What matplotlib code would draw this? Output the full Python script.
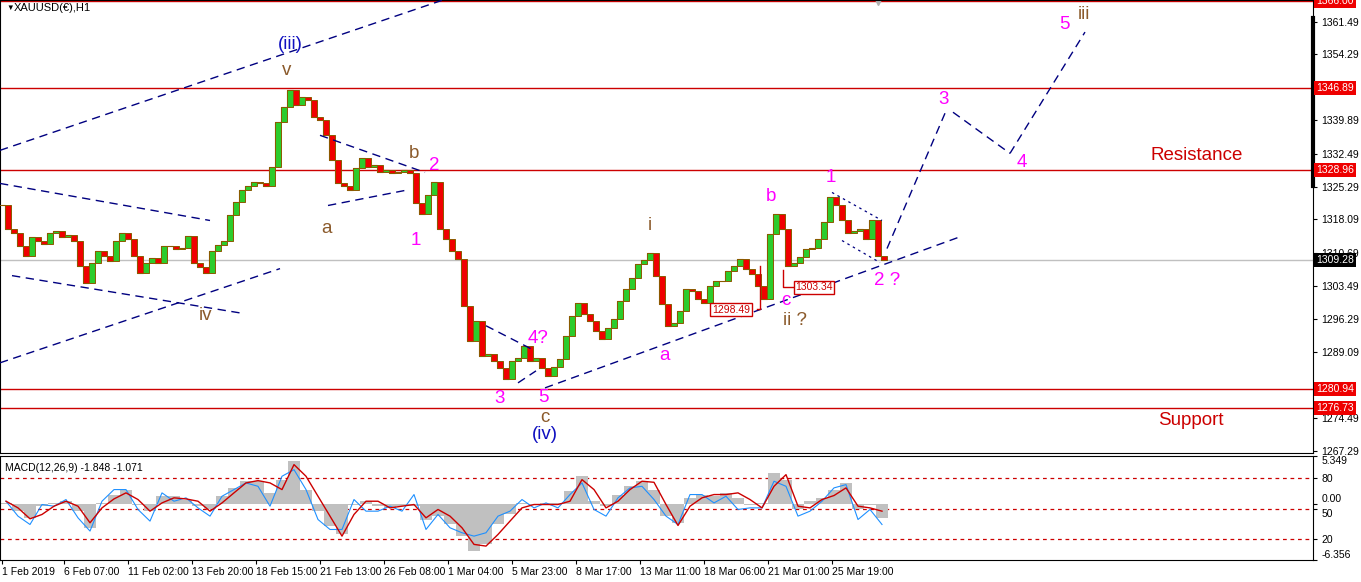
import numpy as np
import matplotlib.pyplot as plt
import matplotlib.transforms as mtransforms

# H1 closes, one every 6 bars
closes = [1321.15, 1316.10, 1315.22, 1312.36, 1310.16, 1314.34, 1313.46, 1312.80, 1315.22, 1315.66,
          1314.34, 1314.78, 1313.46, 1307.96, 1304.22, 1308.62, 1311.26, 1310.16, 1309.06, 1313.46,
          1315.22, 1313.90, 1310.16, 1306.42, 1308.62, 1309.72, 1308.62, 1312.36, 1312.36, 1311.70,
          1311.92, 1314.56, 1308.62, 1307.74, 1306.42, 1311.26, 1312.58, 1313.46, 1318.96, 1321.81,
          1324.45, 1325.33, 1326.21, 1325.99, 1325.33, 1329.51, 1339.41, 1342.71, 1346.45, 1343.15,
          1344.91, 1344.25, 1340.51, 1339.85, 1336.55, 1331.05, 1325.99, 1325.33, 1324.45, 1329.29,
          1331.49, 1329.51, 1329.95, 1328.41, 1328.85, 1328.19, 1328.41, 1328.85, 1328.19, 1321.59,
          1319.39, 1323.35, 1326.21, 1316.10, 1313.90, 1311.26, 1309.50, 1299.16, 1291.46, 1295.86,
          1288.16, 1288.60, 1287.07, 1285.53, 1283.11, 1287.07, 1287.72, 1290.36, 1287.07, 1287.72,
          1285.53, 1283.77, 1285.75, 1287.51, 1292.56, 1296.96, 1299.82, 1297.40, 1295.86, 1293.66,
          1291.90, 1294.32, 1296.30, 1300.26, 1302.90, 1305.32, 1308.40, 1309.28, 1310.82, 1305.76,
          1299.60, 1294.76, 1295.42, 1298.06, 1302.90, 1302.46, 1300.70, 1299.82, 1303.56, 1304.66,
          1304.66, 1306.86, 1307.96, 1309.50, 1307.30, 1306.20, 1303.56, 1300.70, 1315.00, 1319.39,
          1316.10, 1307.96, 1308.62, 1309.94, 1311.70, 1311.92, 1313.90, 1317.42, 1322.91, 1321.15,
          1317.86, 1315.22, 1315.66, 1316.10, 1313.90, 1317.86, 1310.16, 1309.28]

# MACD(12,26,9), one value every 12 bars
macd_hist = [0.07, -0.86, -1.61, -0.30, 0.07, 0.26, -0.86, -2.73, 0.07, 1.01,
             1.57, -0.11, -0.86, 0.82, 0.82, 0.45, -0.30, -0.67, 0.82, 1.76,
             2.51, 2.51, 1.20, 2.69, 4.75, 1.57, -0.86, -2.54, -3.48, -0.11,
             0.26, -0.30, -0.49, -0.30, -0.30, -1.80, -1.42, -2.36, -3.67, -5.35,
             -4.60, -2.36, -1.23, 0.07, -0.11, 0.07, 0.07, 1.38, 3.07, 0.26,
             -0.30, 1.01, 1.94, 2.51, 1.57, -1.42, -2.17, 0.64, 1.01, 0.82,
             1.20, 0.64, -0.11, 0.07, 3.44, 2.69, -0.67, 0.26, 0.64, 1.57,
             2.32, -0.67, -0.11, -1.61]
macd_signal = [0.26, -0.49, -1.72, -1.23, -0.30, 0.26, -0.30, -2.17, -0.49, 0.52,
               1.20, 0.45, -0.86, 0.07, 0.64, 0.52, 0.26, -0.86, 0.07, 1.20,
               2.32, 2.58, 2.32, 1.57, 4.38, 3.07, 0.82, -1.42, -3.67, -1.23,
               0.26, 0.26, -0.49, -0.30, -0.11, -1.61, -0.67, -1.42, -2.73, -4.60,
               -4.79, -3.48, -1.98, -0.49, -0.11, -0.11, -0.11, 0.26, 2.69, 1.57,
               -0.49, 0.26, 1.57, 2.51, 2.39, -0.11, -2.47, -0.30, 0.64, 1.01,
               1.01, 1.20, 0.45, -0.49, 1.94, 3.25, -0.30, -0.49, 0.45, 0.90,
               1.76, -0.30, -0.49, -0.86]
macd_fast = [0.26, -1.42, -2.36, -0.11, -0.30, 0.45, -1.61, -3.10, 0.26, 1.57,
             1.57, -0.67, -1.98, 1.20, 0.26, 0.64, -0.49, -1.42, 0.82, 1.57,
             2.32, 1.94, -0.30, 3.07, 3.81, 1.57, -1.80, -2.92, -2.92, 0.45,
             -0.86, -0.86, -0.30, -0.86, 1.01, -2.92, -1.23, -2.73, -3.29, -3.67,
             -3.29, -1.42, -0.86, 0.45, -0.49, 0.07, -0.49, 1.01, 2.32, -0.67,
             -1.42, 0.64, 1.76, 1.94, 0.45, -1.42, -2.36, 1.01, 1.01, 0.07,
             0.82, -0.67, -0.49, -0.49, 2.51, 1.94, -1.42, -0.86, 0.26, 1.76,
             2.13, -1.80, -0.67, -2.36]

levels = [1366.00, 1346.89, 1328.96, 1280.94, 1276.73]
last_price = 1309.28
price_ticks = [1361.49, 1354.29, 1339.89, 1332.49, 1325.29, 1318.09,
               1310.69, 1303.49, 1296.29, 1289.09, 1274.49, 1267.29]
time_ticks = [2, 64, 128, 192, 256, 320, 384, 448, 512, 576, 640, 704, 768, 832]
time_labels = ['1 Feb 2019', '6 Feb 07:00', '11 Feb 02:00', '13 Feb 20:00', '18 Feb 15:00',
               '21 Feb 13:00', '26 Feb 08:00', '1 Mar 04:00', '5 Mar 23:00', '8 Mar 17:00',
               '13 Mar 11:00', '18 Mar 06:00', '21 Mar 01:00', '25 Mar 19:00']

plt.rcParams['font.family'] = ['Liberation Sans', 'DejaVu Sans']
W, H = 1361, 582
fig = plt.figure(figsize=(W / 100, H / 100), dpi=100)
ax = fig.add_axes([0, 1 - 453 / H, 1313 / W, 453 / H])
ax2 = fig.add_axes([0, 1 - 560 / H, 1313 / W, 104 / H])

# price bars
step = 6
xb = np.arange(len(closes)) * step + 2
c = np.array(closes)
o = np.concatenate([[c[0]], c[:-1]])
cols = np.where(c >= o, '#2ccc2c', '#f00000')
ax.bar(xb, c - o, bottom=o, width=6, color=cols, edgecolor='#8b5a00', linewidth=0.7, zorder=3)
ax.plot(xb, c, color='#8b5a00', lw=0.8, drawstyle='steps-mid', zorder=2)

for lv in levels:
    ax.axhline(lv, color='#cc0000', lw=1, zorder=2)
ax.axhline(last_price, color='#c0c0c0', lw=1, zorder=1)

# trend lines / projection
navy = '#000080'
dash = (0, (6, 4))
segs = [((0, 1333.25), (443, 1366.24)),
        ((0, 1286.63), (280, 1307.30)),
        ((0, 1325.99), (210, 1317.86)),
        ((12, 1305.76), (245, 1297.40)),
        ((320, 1336.55), (425, 1328.41)),
        ((328, 1321.15), (405, 1324.45)),
        ((486, 1294.76), (535, 1289.26)),
        ((518, 1282.23), (536, 1284.86)),
        ((545, 1281.13), (958, 1314.12)),
        ((887, 1311.70), (945, 1341.39)),
        ((953, 1341.61), (1010, 1332.59)),
        ((1010, 1332.59), (1085, 1359.20))]
for (x0, y0), (x1, y1) in segs:
    ax.plot([x0, x1], [y0, y1], color=navy, lw=1, ls=dash, zorder=4)
for (x0, y0), (x1, y1) in [((832, 1324.01), (882, 1317.86)), ((842, 1313.46), (880, 1308.62))]:
    ax.plot([x0, x1], [y0, y1], color=navy, lw=0.9, ls=(0, (2, 3)), zorder=4)

# wave labels
mag = '#ff00ff'
brn = '#8b5a2b'
blu = '#1010c0'
labels = [('(iii)', 290, 1356.56, blu), ('v', 287, 1350.84, brn), ('b', 414, 1332.59, brn),
          ('2', 434, 1329.95, mag), ('a', 326, 1316.10, brn), ('1', 416, 1313.46, mag),
          ('iv', 205, 1296.96, brn), ('i', 650, 1316.76, brn), ('4?', 538, 1291.90, mag),
          ('3', 500, 1278.71, mag), ('5', 543, 1279.0, mag), ('c', 545, 1274.6, brn),
          ('(iv)', 545, 1270.8, blu), ('a', 665, 1288.16, mag), ('b', 771, 1323.13, mag),
          ('1', 831, 1327.31, mag), ('c', 786, 1300.26, mag), ('ii ?', 795, 1295.86, brn),
          ('2 ?', 887, 1304.66, mag), ('3', 944, 1344.47, mag), ('4', 1022, 1330.61, mag),
          ('5', 1064, 1360.96, mag), ('iii', 1084, 1363.16, brn)]
for t, x, y, col in labels:
    ax.text(x, y, t, color=col, fontsize=13.5, ha='center', va='center', zorder=6)
ax.text(1197, 1332.15, 'Resistance', color='#cc0000', fontsize=13.5, ha='center', va='center')
ax.text(1191, 1273.87, 'Support', color='#cc0000', fontsize=13.5, ha='center', va='center')

# low price tags
ax.plot([760, 760, 757], [1307.9, 1298.49, 1298.49], color='#cc0000', lw=1, zorder=5)
ax.text(731, 1298.3, '1298.49', color='#cc0000', fontsize=7.5, ha='center', va='center', zorder=6,
        bbox=dict(boxstyle='square,pad=0.15', fc='white', ec='#cc0000', lw=1))
ax.plot([783, 783, 793], [1306.9, 1303.34, 1303.34], color='#cc0000', lw=1, zorder=5)
ax.text(814, 1303.2, '1303.34', color='#cc0000', fontsize=7.5, ha='center', va='center', zorder=6,
        bbox=dict(boxstyle='square,pad=0.15', fc='white', ec='#cc0000', lw=1))

ax.text(6, 1364.4, '\u25bc', fontsize=5.5, va='center', ha='left')
ax.text(14, 1364.4, 'XAUUSD(\u20ac),H1', fontsize=8, va='center', ha='left')
ax.plot([878], [1365.8], marker='v', color='#b0b0b0', ms=4, clip_on=False)

ax.set_xlim(0, 1313)
ax.set_ylim(1266.84, 1366.24)
ax.yaxis.tick_right()
ax.set_yticks(price_ticks)
ax.set_yticklabels(['%.2f' % p for p in price_ticks])
ax.tick_params(axis='y', length=3, pad=3, labelsize=7.5)
ax.set_xticks([])
tr = mtransforms.blended_transform_factory(ax.transAxes, ax.transData)
ax.plot([1.0, 1.0], [1362.2, 1325.4], color='black', lw=3, transform=tr, clip_on=False, zorder=7)

for lv in levels:
    ax.text(1.0025, lv, '%.2f' % lv, transform=tr, color='white', fontsize=7.5, ha='left', va='center',
            clip_on=False, zorder=8, bbox=dict(boxstyle='square,pad=0.2', fc='#ee0000', ec='none'))
ax.text(1.0025, last_price, '%.2f' % last_price, transform=tr, color='white', fontsize=7.5, ha='left',
        va='center', clip_on=False, zorder=8, bbox=dict(boxstyle='square,pad=0.2', fc='black', ec='none'))

# MACD window
xm = np.arange(len(macd_hist)) * 12 + 6
ax2.bar(xm, macd_hist, width=12, color='#c0c0c0', zorder=2)
ax2.plot(xm, macd_fast, color='#1e90ff', lw=0.8, zorder=3)
ax2.plot(xm, macd_signal, color='#cc0000', lw=1, zorder=4)
for lv in [2.9, -0.56, -4.0]:
    ax2.axhline(lv, color='#cc0000', lw=0.9, ls=(0, (3, 3)), zorder=1)
ax2.set_xlim(0, 1313)
ax2.set_ylim(-6.356, 5.349)
ax2.yaxis.tick_right()
ax2.set_yticks([5.349, 2.9, 0.0, -0.56, -4.0, -6.356])
ax2.set_yticklabels(['5.349', '80', '0.00', '50', '20', '-6.356'])
ax2.tick_params(axis='y', length=3, pad=3, labelsize=7.5)
tl = ax2.get_yticklabels()
tl[0].set_va('top')
tl[2].set_va('bottom')
tl[3].set_va('top')
tl[-1].set_va('bottom')
ax2.set_xticks(time_ticks)
ax2.set_xticklabels(time_labels, ha='left')
ax2.tick_params(axis='x', length=3, pad=2, labelsize=7.5)
ax2.text(5, 4.0, 'MACD(12,26,9) -1.848 -1.071', fontsize=7.5, va='center', ha='left')

plt.savefig('out.png', dpi=100)
